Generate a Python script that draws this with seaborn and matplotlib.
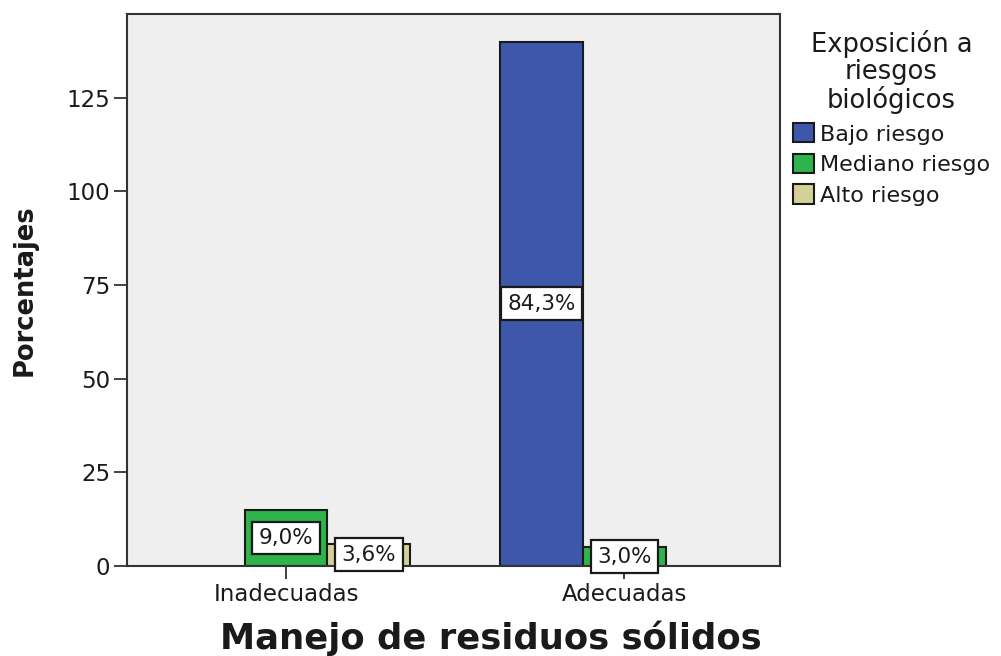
import matplotlib
matplotlib.use("Agg")
import matplotlib.pyplot as plt
import seaborn as sns
import pandas as pd

# data (counts, n = 166)
manejo = ["Inadecuadas", "Inadecuadas", "Adecuadas", "Adecuadas"]
riesgo = ["Mediano riesgo", "Alto riesgo", "Bajo riesgo", "Mediano riesgo"]
valores = [15, 6, 140, 5]
etiquetas = ["9,0%", "3,6%", "84,3%", "3,0%"]

cat_order = ["Inadecuadas", "Adecuadas"]
hue_order = ["Bajo riesgo", "Mediano riesgo", "Alto riesgo"]
colores = ["#3D57AA", "#2EB44B", "#D5D098"]

df = pd.DataFrame({"manejo": manejo, "riesgo": riesgo, "valor": valores})

sns.set_style("white")
plt.rcParams["font.family"] = ["DejaVu Sans"]
plt.rcParams["text.color"] = "#1a1a1a"

fig = plt.figure(figsize=(10.01, 6.56), dpi=100)
ax = fig.add_axes([0.127, 0.137, 0.652, 0.842])
ax.set_facecolor("#EFEFEF")

sns.barplot(data=df, x="manejo", y="valor", hue="riesgo", order=cat_order,
            hue_order=hue_order, palette=colores, width=0.735, saturation=1,
            edgecolor="#1a1a1a", linewidth=1.5, ax=ax)

# value labels in white boxes at the middle of each bar
lab = {(m, r): e for m, r, e in zip(manejo, riesgo, etiquetas)}
for cont, r in zip(ax.containers, hue_order):
    for bar in cont:
        x = bar.get_x() + bar.get_width() / 2
        m = cat_order[int(round(x))]
        if (m, r) not in lab or bar.get_height() == 0:
            continue
        y = bar.get_height() / 2
        ax.text(x, y, lab[(m, r)], ha="center", va="center", fontsize=15.5,
                bbox=dict(boxstyle="square,pad=0.3", fc="white", ec="#1a1a1a", lw=1.6))

ax.set_xlim(-0.47, 1.46)
ax.set_ylim(0, 147.4)
ax.set_yticks([0, 25, 50, 75, 100, 125])
ax.tick_params(axis="both", direction="out", length=9.5, width=1.3, color="#333333",
               labelsize=16.5, labelcolor="#1a1a1a", pad=2.5, bottom=True, left=True)
for s in ax.spines.values():
    s.set_color("#333333")
    s.set_linewidth(1.5)

ax.set_xlabel("")
ax.set_ylabel("")
fig.text(0.49, 0.027, "Manejo de residuos sólidos", ha="center", va="center",
         fontsize=25.5, fontweight="bold")
fig.text(0.025, 0.557, "Porcentajes", ha="center", va="center", rotation=90,
         fontsize=18.5, fontweight="bold")

leg = ax.legend(title="Exposición a\nriesgos\nbiológicos", loc="upper left",
                bbox_to_anchor=(1.0, 0.995), frameon=False, fontsize=16,
                title_fontsize=18.5, handlelength=0.95, handleheight=0.95,
                handletextpad=0.25, labelspacing=0.42, borderaxespad=0.3,
                borderpad=0.3)
leg.get_title().set_multialignment("center")
leg.get_title().set_linespacing(1.05)
for h in leg.legend_handles:
    h.set_edgecolor("#1a1a1a")
    h.set_linewidth(1.5)

fig.savefig("out.png", dpi=100)
